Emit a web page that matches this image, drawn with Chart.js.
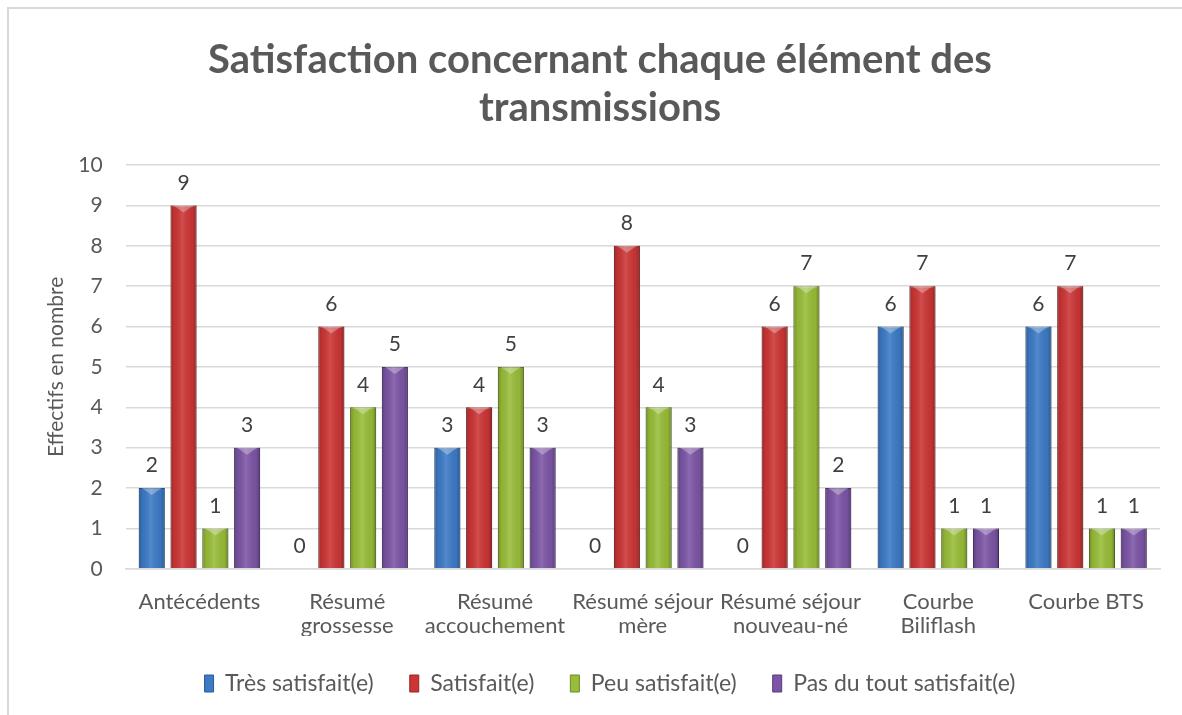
<!DOCTYPE html>
<html>
<head>
<meta charset="utf-8">
<script src="https://cdn.jsdelivr.net/npm/chart.js@4/dist/chart.umd.min.js"></script>
<style>
  html, body { margin: 0; padding: 0; background: #fff; overflow: hidden; }
  #frame { position: absolute; left: 7px; top: 7px; width: 1200px; height: 720px;
           border-left: 2px solid #d9d9d9; border-top: 2px solid #d9d9d9; }
  #wrap { position: absolute; left: 0; top: 0; width: 1182px; height: 715px; }
</style>
</head>
<body>
<div id="frame"></div>
<div id="wrap"><canvas id="myChart"></canvas></div>
<script>
var categories = ['Antécédents', ['Résumé', 'grossesse'], ['Résumé', 'accouchement'],
    ['Résumé séjour', 'mère'], ['Résumé séjour', 'nouveau-né'], ['Courbe', 'Biliflash'], 'Courbe BTS'];
var tresSatisfait = [2, 0, 3, 0, 0, 6, 6];
var satisfait = [9, 6, 4, 8, 6, 7, 7];
var peuSatisfait = [1, 4, 5, 4, 7, 1, 1];
var pasDuTout = [3, 5, 3, 3, 2, 1, 1];

var textColor = '#595959';

// shading on top of each bar, Excel-ish bevel
var barShade = {
    id: 'barShade',
    afterDatasetDraw: function(chart, args) {
        var ctx = chart.ctx;
        args.meta.data.forEach(function(bar) {
            var p = bar.getProps(['x', 'y', 'base', 'width'], true);
            if (Math.abs(p.base - p.y) < 1) return;
            var l = p.x - p.width / 2, r = p.x + p.width / 2;
            var g = ctx.createLinearGradient(l, 0, r, 0);
            g.addColorStop(0, 'rgba(0,0,0,0.25)');
            g.addColorStop(0.15, 'rgba(0,0,0,0.05)');
            g.addColorStop(0.45, 'rgba(255,255,255,0.12)');
            g.addColorStop(0.85, 'rgba(0,0,0,0.05)');
            g.addColorStop(1, 'rgba(0,0,0,0.3)');
            ctx.save();
            ctx.fillStyle = g;
            ctx.fillRect(l, p.y, p.width, p.base - p.y);
            ctx.fillStyle = 'rgba(255,255,255,0.3)';
            ctx.beginPath();
            ctx.moveTo(l + 3, p.y);
            ctx.lineTo(r - 3, p.y);
            ctx.lineTo(p.x, p.y + 7);
            ctx.closePath();
            ctx.fill();
            ctx.restore();
        });
    }
};

// value labels above bars
var valueLabels = {
    id: 'valueLabels',
    afterDatasetsDraw: function(chart) {
        var ctx = chart.ctx;
        ctx.save();
        ctx.font = '21px Lato';
        ctx.fillStyle = '#404040';
        ctx.textAlign = 'center';
        ctx.textBaseline = 'bottom';
        chart.data.datasets.forEach(function(ds, i) {
            chart.getDatasetMeta(i).data.forEach(function(bar, j) {
                ctx.fillText(ds.data[j], bar.x, bar.y - 12);
            });
        });
        ctx.restore();
    }
};

// legend sits a little right of centre in the original
var legendShift = {
    id: 'legendShift',
    afterLayout: function(chart) {
        chart.legend.left += 10;
        chart.legend.right += 10;
    }
};

var ctx = document.getElementById('myChart').getContext('2d');
var myChart = new Chart(ctx, {
    type: 'bar',
    data: {
        labels: categories,
        datasets: [{
            label: 'Très satisfait(e)',
            data: tresSatisfait,
            backgroundColor: '#3c7ac6',
            borderColor: '#2a5a96',
            borderWidth: 1
        },
        {
            label: 'Satisfait(e)',
            data: satisfait,
            backgroundColor: '#cc3535',
            borderColor: '#962626',
            borderWidth: 1
        },
        {
            label: 'Peu satisfait(e)',
            data: peuSatisfait,
            backgroundColor: '#98bd38',
            borderColor: '#6d8a26',
            borderWidth: 1
        },
        {
            label: 'Pas du tout satisfait(e)',
            data: pasDuTout,
            backgroundColor: '#7c55a6',
            borderColor: '#573a78',
            borderWidth: 1
        }]
    },
    options: {
        responsive: true,
        maintainAspectRatio: false,
        animation: false,
        categoryPercentage: 0.86,
        barPercentage: 0.82,
        layout: {
            padding: { left: 40, right: 22, top: 0, bottom: 10 }
        },
        plugins: {
            title: {
                display: true,
                text: ['Satisfaction concernant chaque élément des', 'transmissions'],
                color: textColor,
                font: { family: 'Lato', size: 40, weight: 'bold', lineHeight: 1.2 },
                padding: { top: 36, bottom: 33 }
            },
            legend: {
                position: 'bottom',
                labels: {
                    color: textColor,
                    font: { family: 'Lato', size: 23 },
                    boxWidth: 9,
                    boxHeight: 17,
                    padding: 36
                }
            },
            tooltip: { enabled: false }
        },
        scales: {
            y: {
                min: 0,
                max: 10,
                ticks: {
                    stepSize: 1,
                    color: textColor,
                    font: { family: 'Lato', size: 21 },
                    padding: 23
                },
                grid: { color: '#d9d9d9', lineWidth: 1.5, drawTicks: false },
                border: { display: false },
                title: {
                    display: true,
                    text: 'Effectifs en nombre',
                    color: textColor,
                    font: { family: 'Lato', size: 21 },
                    padding: { top: 4, bottom: -14 }
                }
            },
            x: {
                afterFit: function(scale) {
                    scale.height -= 15;
                },
                ticks: {
                    color: textColor,
                    font: { family: 'Lato', size: 22, lineHeight: 1.05 },
                    maxRotation: 0,
                    autoSkip: false,
                    padding: 14
                },
                grid: { display: false },
                border: { color: '#d9d9d9', width: 1.5 }
            }
        }
    },
    plugins: [barShade, valueLabels, legendShift]
});
</script>
</body>
</html>
